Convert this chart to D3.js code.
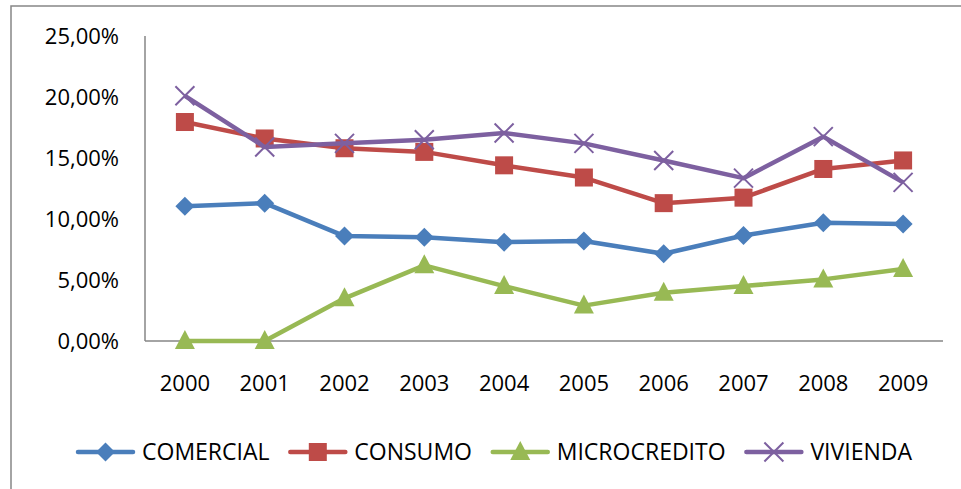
<!DOCTYPE html>
<html>
<head>
<meta charset="utf-8">
<script src="https://cdn.jsdelivr.net/npm/d3@7"></script>
<style>
  body { margin: 0; background: #fff; }
  svg text { font-family: "Open Sans", sans-serif; fill: #000; }
</style>
</head>
<body>
<svg id="chart"></svg>
<script>
const years = ["2000","2001","2002","2003","2004","2005","2006","2007","2008","2009"];
const comercial    = [11.05, 11.3, 8.6, 8.5, 8.1, 8.2, 7.15, 8.65, 9.7, 9.6];
const consumo      = [17.95, 16.6, 15.8, 15.5, 14.4, 13.4, 11.3, 11.75, 14.1, 14.8];
const microcredito = [0, 0, 3.5, 6.2, 4.5, 2.9, 3.95, 4.5, 5.05, 5.9];
const vivienda     = [20.1, 15.9, 16.2, 16.5, 17.05, 16.2, 14.8, 13.35, 16.75, 13.0];
const yTicks = [0, 5, 10, 15, 20, 25];

const series = [
  { name: "COMERCIAL", values: comercial, color: "#4A7EBB", marker: "diamond" },
  { name: "CONSUMO", values: consumo, color: "#BE4B48", marker: "square" },
  { name: "MICROCREDITO", values: microcredito, color: "#98B954", marker: "triangle" },
  { name: "VIVIENDA", values: vivienda, color: "#7D60A0", marker: "cross" }
];

const W = 961, H = 489;
const svg = d3.select("#chart").attr("width", W).attr("height", H);

// outer frame (only left and top edges visible in the picture)
svg.append("rect")
    .attr("x", 11).attr("y", 6)
    .attr("width", W + 20).attr("height", H + 20)
    .attr("fill", "none")
    .attr("stroke", "#868686")
    .attr("stroke-width", 1.5);

const plot = { left: 145, right: 943, top: 36, bottom: 341 };

const x = d3.scaleBand().domain(years).range([plot.left, plot.right]);
const y = d3.scaleLinear().domain([0, 25]).range([plot.bottom, plot.top]);
const cx = d => x(d) + x.bandwidth() / 2;

const fmt = v => d3.format(".2f")(v).replace(".", ",") + "%";

// axes
svg.append("line")
    .attr("x1", plot.left).attr("x2", plot.left)
    .attr("y1", y(25)).attr("y2", y(0))
    .attr("stroke", "#868686").attr("stroke-width", 1.5);
svg.append("line")
    .attr("x1", plot.left).attr("x2", plot.right)
    .attr("y1", y(0)).attr("y2", y(0))
    .attr("stroke", "#868686").attr("stroke-width", 1.5);

svg.selectAll(".ylab")
    .data(yTicks)
    .enter().append("text")
    .attr("class", "ylab")
    .attr("x", 119)
    .attr("y", d => y(d))
    .attr("dy", "0.35em")
    .attr("text-anchor", "end")
    .style("font-size", "22px")
    .text(fmt);

svg.selectAll(".xlab")
    .data(years)
    .enter().append("text")
    .attr("class", "xlab")
    .attr("x", d => cx(d))
    .attr("y", 383)
    .attr("dy", "0.35em")
    .attr("text-anchor", "middle")
    .style("font-size", "22px")
    .text(d => d);

function drawMarker(g, type, color) {
  if (type === "diamond") {
    g.append("path").attr("d", "M0,-9.5L9.5,0L0,9.5L-9.5,0Z").attr("fill", color);
  } else if (type === "square") {
    g.append("rect").attr("x", -9).attr("y", -9).attr("width", 18).attr("height", 18).attr("fill", color);
  } else if (type === "triangle") {
    g.append("path").attr("d", "M0,-11L10,8L-10,8Z").attr("fill", color);
  } else {
    g.append("path").attr("d", "M-9.5,-9.5L9.5,9.5M-9.5,9.5L9.5,-9.5")
      .attr("stroke", color).attr("stroke-width", 2).attr("fill", "none");
  }
}

const line = d3.line()
    .x((d, i) => cx(years[i]))
    .y(d => y(d));

series.forEach(s => {
  svg.append("path")
      .datum(s.values)
      .attr("d", line)
      .attr("fill", "none")
      .attr("stroke", s.color)
      .attr("stroke-width", 4.5)
      .attr("stroke-linejoin", "round");
  s.values.forEach((v, i) => {
    const g = svg.append("g").attr("transform", `translate(${cx(years[i])},${y(v)})`);
    drawMarker(g, s.marker, s.color);
  });
});

// legend, spread between x=78 and x=912
const legendLeft = 78, legendRight = 912;
const items = series.map(s => {
  const g = svg.append("g");
  g.append("line")
      .attr("x1", 0).attr("x2", 55)
      .attr("stroke", s.color).attr("stroke-width", 4.5)
      .attr("stroke-linecap", "round");
  const m = g.append("g").attr("transform", "translate(27.5,0)");
  drawMarker(m, s.marker, s.color);
  const t = g.append("text")
      .attr("x", 64).attr("dy", "0.35em")
      .style("font-size", "23px")
      .text(s.name);
  return { g, w: 64 + t.node().getComputedTextLength() };
});
const totalW = d3.sum(items, d => d.w);
const gap = (legendRight - legendLeft - totalW) / (items.length - 1);
let lx = legendLeft;
items.forEach(it => {
  it.g.attr("transform", `translate(${lx},452)`);
  lx += it.w + gap;
});
</script>
</body>
</html>
